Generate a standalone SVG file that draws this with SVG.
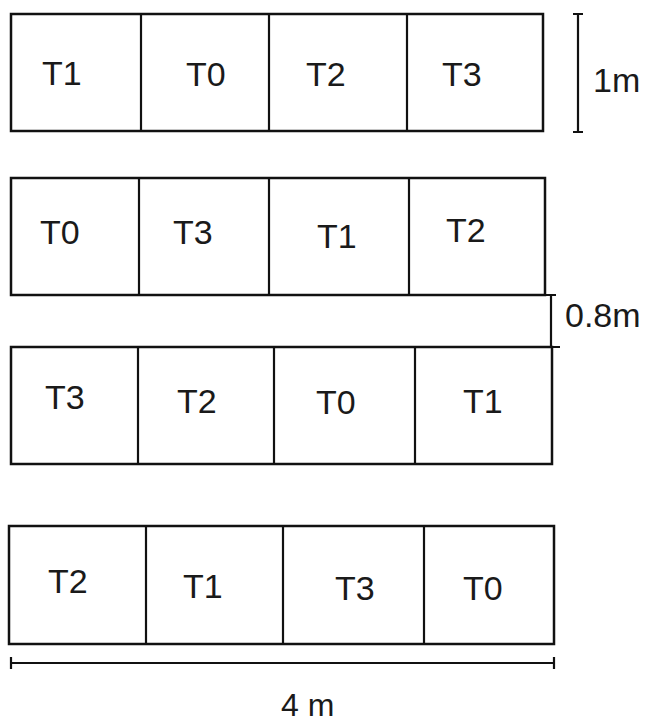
<svg xmlns="http://www.w3.org/2000/svg" width="657" height="725" viewBox="0 0 657 725">
<style>
.box{fill:#fff;stroke:#111;stroke-width:2.5}
.div{stroke:#111;stroke-width:2.2;fill:none}
.dim{stroke:#111;stroke-width:2.2;fill:none}
text{font-family:"Liberation Sans",Arial,sans-serif;font-size:34px;fill:#1a1a1a}
</style>
<rect width="657" height="725" fill="#fff"/>
<g id="row1">
<rect class="box" x="11" y="14" width="532" height="117"/>
<line class="div" x1="141" y1="14" x2="141" y2="131"/>
<line class="div" x1="269" y1="14" x2="269" y2="131"/>
<line class="div" x1="407" y1="14" x2="407" y2="131"/>
<text x="42" y="85">T1</text>
<text x="186" y="86">T0</text>
<text x="306" y="86">T2</text>
<text x="442" y="86">T3</text>
</g>
<g id="row2">
<rect class="box" x="11" y="178" width="534" height="117"/>
<line class="div" x1="139" y1="178" x2="139" y2="295"/>
<line class="div" x1="269" y1="178" x2="269" y2="295"/>
<line class="div" x1="409" y1="178" x2="409" y2="295"/>
<text x="40" y="244">T0</text>
<text x="173" y="244">T3</text>
<text x="317" y="248">T1</text>
<text x="446" y="242">T2</text>
</g>
<g id="row3">
<rect class="box" x="11" y="347" width="541" height="117"/>
<line class="div" x1="138" y1="347" x2="138" y2="464"/>
<line class="div" x1="274" y1="347" x2="274" y2="464"/>
<line class="div" x1="415" y1="347" x2="415" y2="464"/>
<text x="45" y="409">T3</text>
<text x="177" y="413">T2</text>
<text x="316" y="414">T0</text>
<text x="463" y="413">T1</text>
</g>
<g id="row4">
<rect class="box" x="9" y="526" width="545" height="118"/>
<line class="div" x1="146" y1="526" x2="146" y2="644"/>
<line class="div" x1="283" y1="526" x2="283" y2="644"/>
<line class="div" x1="424" y1="526" x2="424" y2="644"/>
<text x="48" y="593">T2</text>
<text x="183" y="598">T1</text>
<text x="335" y="600">T3</text>
<text x="463" y="600">T0</text>
</g>
<g id="dimensions">
<path class="dim" d="M578 14V132M573 14H583M573 132H583"/>
<text x="593" y="92">1m</text>
<path class="dim" d="M551 295V347M546 295H556M552 347H560"/>
<text x="565" y="327">0.8m</text>
<path class="dim" d="M11 663H554M11 657V669M554 657V669"/>
<text x="281" y="716" style="font-size:32px">4 m</text>
</g>
</svg>
